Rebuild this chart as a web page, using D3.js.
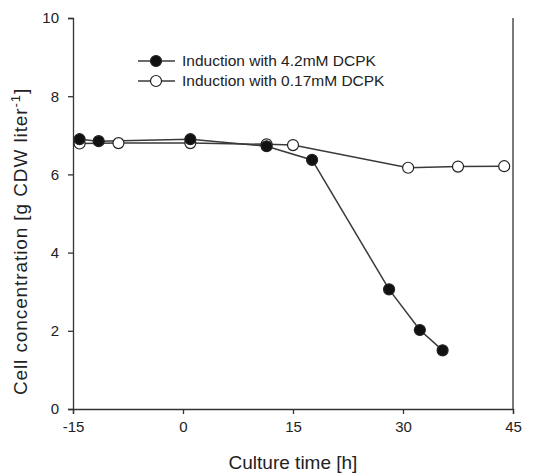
<!DOCTYPE html>
<html>
<head>
<meta charset="utf-8">
<script src="https://cdn.jsdelivr.net/npm/d3@7"></script>
<style>
  body { margin: 0; background: #fff; }
  text { font-family: "Liberation Sans", Arial, sans-serif; fill: #222; }
</style>
</head>
<body>
<div id="chart"></div>
<script>
// data
const highTime = [-14.1, -11.5, 1.0, 11.4, 17.6, 28.1, 32.3, 35.4];
const highConc = [6.90, 6.85, 6.90, 6.72, 6.37, 3.06, 2.02, 1.50];
const lowTime = [-14.1, -8.8, 1.0, 11.4, 15.0, 30.7, 37.5, 43.8];
const lowConc = [6.79, 6.80, 6.80, 6.77, 6.75, 6.17, 6.20, 6.21];
const xTicks = [-15, 0, 15, 30, 45];
const yTicks = [0, 2, 4, 6, 8, 10];
const seriesNames = ['Induction with 4.2mM DCPK', 'Induction with 0.17mM DCPK'];

const width = 542;
const height = 473;
const margin = { top: 18, right: 29, bottom: 64, left: 73 };
const axisColor = '#333';

const svg = d3.select('#chart')
  .append('svg')
  .attr('width', width)
  .attr('height', height);

const x = d3.scaleLinear()
  .domain([-15, 45])
  .range([margin.left, width - margin.right]);

const y = d3.scaleLinear()
  .domain([0, 10])
  .range([height - margin.bottom, margin.top]);

// axes (plain hyphen for negatives, like the original)
const xAxis = svg.append('g')
  .attr('transform', `translate(0,${y(0)})`)
  .call(d3.axisBottom(x).tickValues(xTicks).tickFormat(d => String(d)).tickSize(5).tickPadding(7));

const yAxis = svg.append('g')
  .attr('transform', `translate(${x(-15)},0)`)
  .call(d3.axisLeft(y).tickValues(yTicks).tickFormat(d => String(d)).tickSize(5).tickPadding(9));

[xAxis, yAxis].forEach(ax => {
  ax.select('.domain').attr('stroke', axisColor).attr('stroke-width', 1.3);
  ax.selectAll('.tick line').attr('stroke', axisColor).attr('stroke-width', 1.3);
  ax.selectAll('.tick text')
    .style('font-family', '"Liberation Sans", Arial, sans-serif')
    .style('font-size', '15px')
    .attr('fill', '#222');
});

// right frame line
svg.append('line')
  .attr('x1', x(45)).attr('x2', x(45))
  .attr('y1', y(0)).attr('y2', y(10))
  .attr('stroke', axisColor)
  .attr('stroke-width', 1.3);

// axis titles
svg.append('text')
  .attr('x', (x(-15) + x(45)) / 2)
  .attr('y', 469)
  .attr('text-anchor', 'middle')
  .style('font-size', '19px')
  .text('Culture time [h]');

const yTitle = svg.append('text')
  .attr('transform', `translate(27,${(y(0) + y(10)) / 2 + 28}) rotate(-90)`)
  .attr('text-anchor', 'middle')
  .style('font-size', '19px')
  .style('letter-spacing', '0.9px');
yTitle.append('tspan').text('Cell concentration [g CDW liter');
yTitle.append('tspan').attr('dy', -7).style('font-size', '13px').text('-1');
yTitle.append('tspan').attr('dy', 7).text(']');

// series
const line = d3.line()
  .x(d => x(d[0]))
  .y(d => y(d[1]));

const series = [
  { pts: d3.zip(highTime, highConc), fill: '#111' },
  { pts: d3.zip(lowTime, lowConc), fill: '#fff' }
];

// open series drawn first, filled one on top
series.slice().reverse().forEach(s => {
  svg.append('path')
    .datum(s.pts)
    .attr('d', line)
    .attr('fill', 'none')
    .attr('stroke', '#3a3a3a')
    .attr('stroke-width', 1.5);
});

series.slice().reverse().forEach(s => {
  svg.append('g')
    .selectAll('circle')
    .data(s.pts)
    .enter()
    .append('circle')
    .attr('cx', d => x(d[0]))
    .attr('cy', d => y(d[1]))
    .attr('r', 5.5)
    .attr('fill', s.fill)
    .attr('stroke', '#222')
    .attr('stroke-width', 1.2);
});

// legend
const legend = svg.append('g');
seriesNames.forEach((name, i) => {
  const ly = 61 + i * 20;
  legend.append('line')
    .attr('x1', 138).attr('x2', 175)
    .attr('y1', ly).attr('y2', ly)
    .attr('stroke', '#3a3a3a')
    .attr('stroke-width', 1.5);
  legend.append('circle')
    .attr('cx', 156).attr('cy', ly)
    .attr('r', 5.5)
    .attr('fill', series[i].fill)
    .attr('stroke', '#222')
    .attr('stroke-width', 1.2);
  legend.append('text')
    .attr('x', 182)
    .attr('y', ly)
    .attr('dy', '0.35em')
    .style('font-size', '15.5px')
    .text(name);
});
</script>
</body>
</html>
